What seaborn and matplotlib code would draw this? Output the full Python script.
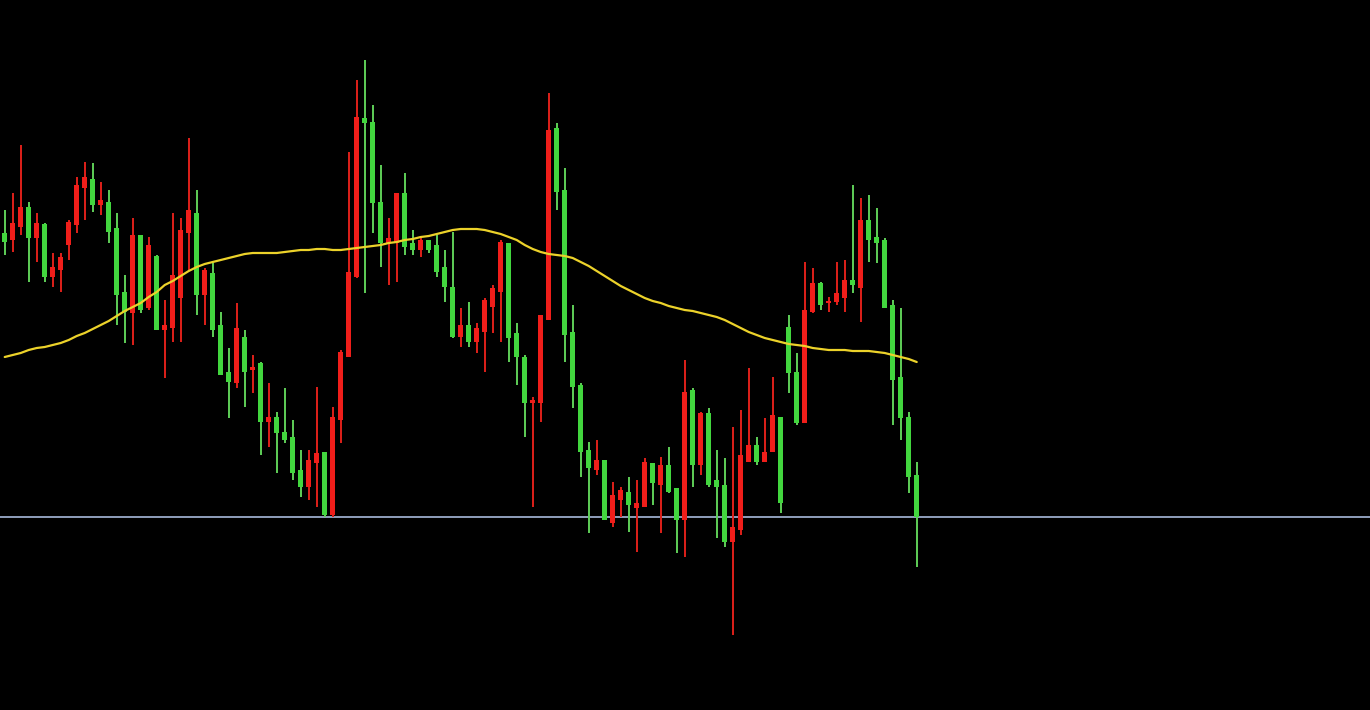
import numpy as np
import pandas as pd
import matplotlib
matplotlib.use("Agg")
import matplotlib.pyplot as plt
import seaborn as sns

# candle data (red = up candle, green = down candle)
opens = [477, 470, 483, 503, 472, 486, 433, 440, 465, 485, 522, 531, 505, 508, 482, 418, 397, 475, 402, 454,
         380, 382, 412, 477, 497, 415, 437, 385, 338, 327, 373, 340, 347, 288, 293, 278, 273, 240, 223, 247,
         258, 195, 290, 353, 433, 592, 588, 508, 467, 467, 517, 467, 460, 470, 465, 443, 423, 373, 385, 368,
         378, 403, 418, 467, 377, 353, 307, 307, 390, 582, 520, 378, 325, 260, 240, 250, 187, 210, 218, 202,
         203, 247, 225, 245, 222, 190, 320, 245, 297, 230, 225, 168, 180, 248, 265, 248, 258, 293, 383, 338,
         287, 398, 427, 407, 408, 412, 430, 422, 490, 473, 470, 405, 333, 293, 235]
highs = [500, 517, 565, 508, 497, 487, 457, 457, 490, 533, 548, 547, 528, 520, 497, 435, 492, 475, 473, 455,
         410, 497, 492, 572, 520, 442, 447, 398, 362, 407, 380, 355, 348, 327, 298, 322, 290, 260, 260, 323,
         258, 303, 360, 558, 630, 650, 605, 545, 492, 517, 537, 480, 472, 470, 475, 460, 478, 402, 408, 387,
         412, 425, 470, 467, 387, 355, 313, 395, 617, 587, 542, 405, 327, 268, 270, 250, 228, 223, 233, 230,
         252, 247, 253, 263, 222, 350, 322, 298, 302, 260, 252, 283, 300, 342, 273, 292, 333, 293, 395, 357,
         448, 442, 428, 413, 448, 450, 525, 512, 515, 502, 472, 410, 402, 298, 248]
lows = [455, 458, 475, 428, 448, 428, 423, 418, 450, 477, 490, 498, 495, 467, 385, 367, 365, 397, 400, 380,
        332, 368, 368, 440, 395, 385, 373, 335, 292, 322, 303, 317, 255, 263, 237, 267, 230, 213, 210, 203,
        193, 193, 267, 353, 432, 417, 477, 443, 425, 428, 455, 455, 453, 457, 433, 408, 372, 363, 363, 357,
        338, 377, 368, 348, 325, 273, 203, 288, 390, 500, 348, 302, 233, 177, 235, 190, 183, 193, 178, 158,
        203, 205, 177, 217, 157, 153, 223, 235, 223, 172, 163, 75, 175, 248, 245, 248, 258, 197, 317, 285,
        287, 397, 400, 398, 405, 398, 417, 388, 448, 447, 402, 285, 270, 217, 143]
closes = [468, 487, 503, 472, 487, 433, 443, 453, 488, 525, 533, 505, 510, 478, 415, 398, 475, 400, 465, 380,
          385, 435, 480, 500, 415, 440, 380, 335, 328, 382, 338, 343, 288, 293, 277, 270, 237, 223, 250, 257,
          195, 293, 358, 438, 593, 587, 507, 467, 472, 517, 463, 460, 470, 460, 438, 423, 373, 385, 368, 382,
          410, 422, 468, 372, 353, 307, 310, 395, 580, 518, 375, 323, 258, 242, 250, 190, 215, 220, 205, 207,
          248, 227, 245, 218, 190, 318, 245, 297, 225, 223, 168, 183, 255, 265, 248, 258, 295, 207, 337, 287,
          400, 427, 405, 409, 417, 430, 425, 490, 470, 467, 402, 330, 292, 233, 193]

# moving average line, one value per candle
ma_values = [353, 355, 357, 360, 362, 363, 365, 367, 370, 374, 377, 381, 385, 389, 394, 399, 403, 407, 413, 418,
             425, 429, 434, 439, 443, 446, 448, 450, 452, 454, 456, 457, 457, 457, 457, 458, 459, 460, 460, 461,
             461, 460, 460, 461, 462, 463, 464, 465, 467, 468, 470, 471, 473, 474, 476, 478, 480, 481, 481, 481,
             480, 478, 476, 473, 470, 465, 461, 458, 456, 455, 454, 452, 448, 444, 439, 434, 429, 424, 420, 416,
             412, 409, 407, 404, 402, 400, 399, 397, 395, 393, 390, 386, 382, 378, 375, 372, 370, 368, 366, 365,
             364, 362, 361, 360, 360, 360, 359, 359, 359, 358, 357, 355, 353, 351, 348]

support_level = 193

df = pd.DataFrame({"open": opens, "high": highs, "low": lows, "close": closes, "ma": ma_values})
df["idx"] = np.arange(len(df))
df["up"] = df["close"] >= df["open"]

red = "#f01e1a"
green = "#42d63e"

sns.set_style("dark", {"axes.facecolor": "black", "figure.facecolor": "black"})

fig = plt.figure(figsize=(13.7, 7.1), dpi=100, facecolor="black")
ax = fig.add_axes([0, 0, 1, 1])
ax.set_facecolor("black")

cols = np.where(df["up"], red, green)
wick_cols = np.where(df["up"], "#e0201a", "#5fcf58")

# wicks
ax.vlines(df["idx"], df["low"], df["high"], colors=wick_cols, linewidth=1.4, zorder=2)

# bodies
body_low = np.minimum(df["open"], df["close"])
body_h = np.maximum(np.abs(df["close"] - df["open"]), 1.5)
ax.bar(df["idx"], body_h, bottom=body_low, width=0.62, color=cols, linewidth=0, zorder=3)

# moving average
sns.lineplot(data=df, x="idx", y="ma", color="#ecd22a", linewidth=1.6, ax=ax, zorder=4)

# horizontal level line
ax.axhline(support_level, color="#9aabc9", linewidth=1.3, zorder=1)

ax.set_xlim(-0.59, 170.66)
ax.set_ylim(0, 710)
ax.set_axis_off()

fig.savefig("out.png", dpi=100, facecolor="black")
